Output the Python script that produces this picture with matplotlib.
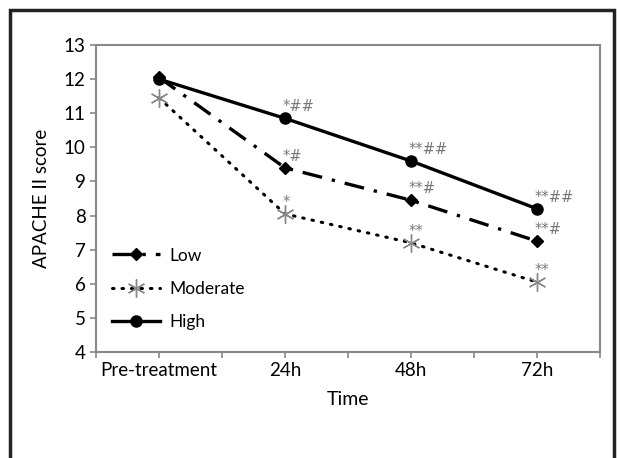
import matplotlib.pyplot as plt
from matplotlib.patches import Rectangle

plt.rcParams['font.family'] = ['Lato', 'DejaVu Sans']

times = ['Pre-treatment', '24h', '48h', '72h']
low = [12.05, 9.4, 8.45, 7.25]
moderate = [11.45, 8.05, 7.2, 6.05]
high = [12.0, 10.85, 9.6, 8.2]

low_marks = ['', '*#', '**#', '**#']
moderate_marks = ['', '*', '**', '**']
high_marks = ['', '*##', '**##', '**##']

fig = plt.figure(figsize=(6.17, 4.58), dpi=100)
ax = fig.add_axes([0.1556, 0.2314, 0.8168, 0.6703])

x = list(range(len(times)))

ax.plot(x, low, color='black', lw=2.4, dashes=(6, 3, 1, 3),
        marker='D', ms=6, label='Low', zorder=3)
ax.plot(x, moderate, color='black', lw=2.2, linestyle=(0, (0.5, 2.6)),
        dash_capstyle='round', marker=(6, 2, 0), ms=13,
        markeredgecolor='#888888', markeredgewidth=1.0, label='Moderate', zorder=3)
ax.plot(x, high, color='black', lw=2.4, marker='o', ms=8,
        label='High', zorder=4)

# significance marks above each point
for vals, marks in [(low, low_marks), (moderate, moderate_marks), (high, high_marks)]:
    for xi, v, m in zip(x, vals, marks):
        if m:
            ax.annotate(m, (xi, v), xytext=(-2, 3), textcoords='offset points',
                        ha='left', va='bottom', fontsize=10.5, color='#777777',
                        family='DejaVu Sans')

ax.set_xlim(-0.5, 3.5)
ax.set_ylim(4, 13)
ax.set_yticks(range(4, 14))
ax.set_xticks(x)
ax.set_xticklabels(times)
ax.set_xticks([i - 0.5 for i in range(len(times) + 1)], minor=True)
ax.tick_params(axis='both', labelsize=13.5, colors='#888888', labelcolor='black',
               length=4, width=1.2)
ax.tick_params(axis='x', which='minor', length=4, width=1.2, colors='#888888')
for s in ax.spines.values():
    s.set_color('#888888')
    s.set_linewidth(1.5)

ax.set_xlabel('Time', fontsize=14, labelpad=8)
ax.set_ylabel('APACHE II score', fontsize=13.5, labelpad=10)

ax.legend(loc='lower left', bbox_to_anchor=(0.0, 0.02), frameon=False,
          fontsize=12.5, handlelength=2.8, labelspacing=1.0, handletextpad=0.5)

fig.patches.append(Rectangle((10 / 617, -0.1), 604 / 617, 1.078, transform=fig.transFigure,
                             fill=False, edgecolor='#222222', lw=2.5))

fig.savefig('out.png', dpi=100)
